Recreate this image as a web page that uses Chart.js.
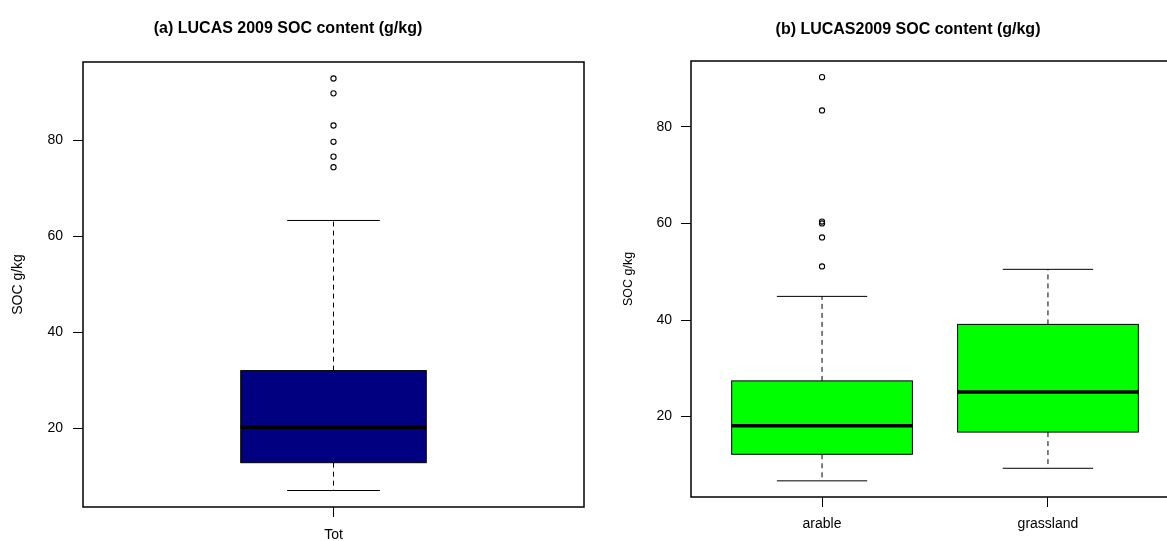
<!DOCTYPE html>
<html>
<head>
<meta charset="utf-8">
<title>LUCAS 2009 SOC content</title>
<script src="https://cdn.jsdelivr.net/npm/chart.js@4.4.1/dist/chart.umd.min.js"></script>
<style>
  html, body { margin: 0; padding: 0; background: #fff; overflow: hidden; }
  #wrap { position: relative; width: 1167px; height: 541px; overflow: hidden; }
  #wrap canvas { position: absolute; top: 0; }
  #chartA { left: 0; }
  #chartB { left: 600px; }
</style>
</head>
<body>
<div id="wrap">
  <canvas id="chartA" width="600" height="541"></canvas>
  <canvas id="chartB" width="600" height="541"></canvas>
</div>
<script>
// ---- values (SOC, g/kg) ----
const yTickValues = [20, 40, 60, 80];

// (a) all samples
const totCategories = ['Tot'];
const totLower = [7.0];
const totQ1 = [12.8];
const totMedian = [20.2];
const totQ3 = [32.0];
const totUpper = [63.3];
const totOutliers = [[74.4, 76.6, 79.7, 83.1, 89.8, 92.9]];

// (b) split by land use
const landCategories = ['arable', 'grassland'];
const landLower = [6.7, 9.3];
const landQ1 = [12.2, 16.8];
const landMedian = [18.1, 25.1];
const landQ3 = [27.4, 39.1];
const landUpper = [44.9, 50.5];
const landOutliers = [[51.1, 57.1, 60.0, 60.4, 83.4, 90.3], []];

const FONT = "'Liberation Sans', Arial, Helvetica, sans-serif";

// R-style axis range: data extent plus 4% each side
function yRange(values) {
  const lo = Math.min(...values);
  const hi = Math.max(...values);
  const pad = (hi - lo) * 0.04;
  return { min: lo - pad, max: hi + pad };
}

function xRange(n) {
  return { min: 0.5 - 0.04 * n, max: n + 0.5 + 0.04 * n };
}

// Box, whiskers, staples and median, placed through the chart scales
const boxplotPlugin = {
  id: 'boxplot',
  beforeDatasetsDraw(chart, args, opts) {
    const { ctx } = chart;
    const x = chart.scales.x;
    const y = chart.scales.y;
    const half = opts.boxWidth / 2;

    const line = (x1, y1, x2, y2) => {
      ctx.beginPath();
      ctx.moveTo(x1, y1);
      ctx.lineTo(x2, y2);
      ctx.stroke();
    };

    ctx.save();
    ctx.strokeStyle = '#000';
    opts.median.forEach((med, i) => {
      const pos = i + 1;
      const left = x.getPixelForValue(pos - half);
      const right = x.getPixelForValue(pos + half);
      const mid = x.getPixelForValue(pos);
      const capL = x.getPixelForValue(pos - half / 2);
      const capR = x.getPixelForValue(pos + half / 2);
      const yLo = y.getPixelForValue(opts.lower[i]);
      const yQ1 = y.getPixelForValue(opts.q1[i]);
      const yMed = y.getPixelForValue(med);
      const yQ3 = y.getPixelForValue(opts.q3[i]);
      const yUp = y.getPixelForValue(opts.upper[i]);

      // dashed whiskers
      ctx.lineWidth = 1;
      ctx.setLineDash([5, 4]);
      line(mid, yQ3, mid, yUp);
      line(mid, yQ1, mid, yLo);
      ctx.setLineDash([]);

      // staples
      line(capL, yUp, capR, yUp);
      line(capL, yLo, capR, yLo);

      // box
      ctx.fillStyle = opts.fill;
      ctx.fillRect(left, yQ3, right - left, yQ1 - yQ3);
      ctx.strokeRect(left, yQ3, right - left, yQ1 - yQ3);

      // median
      ctx.lineWidth = 3.5;
      line(left, yMed, right, yMed);
    });
    ctx.restore();
  },
};

// Full box round the plot region, like R's bty = "o"
const framePlugin = {
  id: 'frame',
  afterDraw(chart) {
    const { ctx, chartArea: a } = chart;
    ctx.save();
    ctx.strokeStyle = '#000';
    ctx.lineWidth = 1.5;
    ctx.strokeRect(a.left, a.top, a.right - a.left, a.bottom - a.top);
    ctx.restore();
  },
};

const panelTitlePlugin = {
  id: 'panelTitle',
  afterDraw(chart, args, opts) {
    const { ctx } = chart;
    ctx.save();
    ctx.font = `bold ${opts.size}px ${FONT}`;
    ctx.fillStyle = '#000';
    ctx.textAlign = 'center';
    ctx.textBaseline = 'middle';
    ctx.fillText(opts.text, opts.x, opts.y);
    ctx.restore();
  },
};

function createBoxplot(canvasId, p) {
  const ctx = document.getElementById(canvasId).getContext('2d');
  const outlierPoints = p.outliers.flatMap((vals, i) =>
    vals.map((v) => ({ x: i + 1, y: v }))
  );
  const yr = yRange([...p.lower, ...p.upper, ...p.outliers.flat()]);
  const xr = xRange(p.categories.length);

  return new Chart(ctx, {
    type: 'scatter',
    data: {
      datasets: [
        {
          label: 'outliers',
          data: outlierPoints,
          pointStyle: 'circle',
          pointRadius: 2.6,
          pointBorderWidth: 1.1,
          pointBorderColor: '#000',
          pointBackgroundColor: 'rgba(255,255,255,0)',
        },
      ],
    },
    options: {
      responsive: false,
      animation: false,
      events: [],
      layout: { padding: p.padding },
      plugins: {
        legend: { display: false },
        tooltip: { enabled: false },
        title: { display: false },
        boxplot: {
          boxWidth: p.boxWidth,
          fill: p.fill,
          lower: p.lower,
          q1: p.q1,
          median: p.median,
          q3: p.q3,
          upper: p.upper,
        },
        panelTitle: p.title,
      },
      scales: {
        x: {
          type: 'linear',
          min: xr.min,
          max: xr.max,
          afterBuildTicks: (scale) => {
            scale.ticks = p.categories.map((c, i) => ({ value: i + 1 }));
          },
          afterFit: (scale) => {
            scale.height = p.xAxisHeight;
          },
          ticks: {
            autoSkip: false,
            maxRotation: 0,
            color: '#000',
            padding: p.xTickPadding,
            font: { family: FONT, size: 14 },
            callback: (value, index) => p.categories[index],
          },
          grid: {
            drawOnChartArea: false,
            drawTicks: true,
            tickLength: 10,
            color: '#000',
            lineWidth: 1,
          },
          border: { display: false },
        },
        y: {
          min: yr.min,
          max: yr.max,
          afterBuildTicks: (scale) => {
            scale.ticks = yTickValues.map((v) => ({ value: v }));
          },
          afterFit: (scale) => {
            scale.width = p.yAxisWidth;
          },
          ticks: {
            color: '#000',
            padding: p.yTickPadding,
            font: { family: FONT, size: 14 },
          },
          grid: {
            drawOnChartArea: false,
            drawTicks: true,
            tickLength: 10,
            color: '#000',
            lineWidth: 1,
          },
          border: { display: false },
          title: {
            display: true,
            text: 'SOC g/kg',
            color: '#000',
            font: { family: FONT, size: p.yTitleSize },
            padding: { top: p.yTitlePad, bottom: 0 },
          },
        },
      },
    },
    plugins: [boxplotPlugin, framePlugin, panelTitlePlugin],
  });
}

createBoxplot('chartA', {
  categories: totCategories,
  lower: totLower,
  q1: totQ1,
  median: totMedian,
  q3: totQ3,
  upper: totUpper,
  outliers: totOutliers,
  fill: '#000080',
  boxWidth: 0.4,
  padding: { top: 62, right: 16, bottom: 0, left: 0 },
  yAxisWidth: 83,
  xAxisHeight: 34,
  xTickPadding: 10,
  yTickPadding: 10,
  yTitleSize: 14,
  yTitlePad: 10,
  title: { text: '(a) LUCAS 2009 SOC content (g/kg)', x: 288, y: 29, size: 16 },
});

createBoxplot('chartB', {
  categories: landCategories,
  lower: landLower,
  q1: landQ1,
  median: landMedian,
  q3: landQ3,
  upper: landUpper,
  outliers: landOutliers,
  fill: '#00ff00',
  boxWidth: 0.8,
  padding: { top: 61, right: 21, bottom: 0, left: 0 },
  yAxisWidth: 91,
  xAxisHeight: 44,
  xTickPadding: 9,
  yTickPadding: 9,
  yTitleSize: 12.5,
  yTitlePad: 21,
  title: { text: '(b) LUCAS2009 SOC content (g/kg)', x: 308, y: 30, size: 16 },
});
</script>
</body>
</html>
